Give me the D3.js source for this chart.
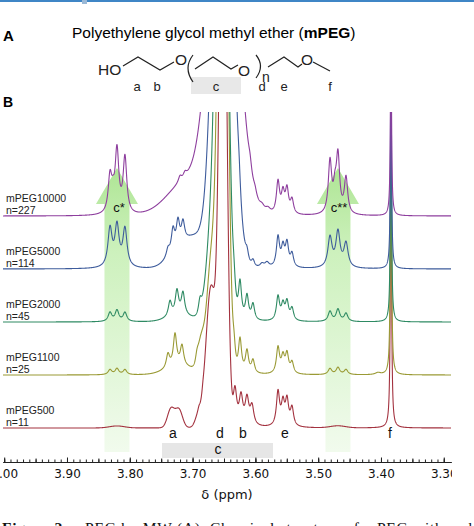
<!DOCTYPE html>
<html>
<head>
<meta charset="utf-8">
<script src="https://cdn.jsdelivr.net/npm/d3@7"></script>
<style>
  body { margin: 0; background: #fff; }
  svg { display: block; font-family: "Liberation Sans", Arial, sans-serif; }
</style>
</head>
<body>
<svg id="fig" width="474" height="526"></svg>
<script>
// Samples, top trace first
var samples = ["mPEG10000", "mPEG5000", "mPEG2000", "mPEG1100", "mPEG500"];
var repeatUnits = [227, 114, 45, 25, 11];

// Peaks: [shift (ppm), height (a.u.), width (ppm), shape G/L]
var peaks10000 = [
  [3.6500, 3.72, 0.0210, "G"], [3.7073, 0.35, 0.0318, "G"],
  [3.7201, 0.06, 0.0032, "L"], [3.7121, 0.05, 0.0032, "L"],
  [3.6086, 0.08, 0.0030, "L"], [3.6006, 0.05, 0.0030, "L"],
  [3.5895, 0.05, 0.0050, "L"], [3.5800, 0.05, 0.0050, "L"],
  [3.5640, 0.32, 0.0030, "L"], [3.5561, 0.20, 0.0030, "L"],
  [3.5497, 0.24, 0.0030, "L"], [3.5417, 0.14, 0.0030, "L"],
  [3.8315, 0.36, 0.0035, "L"], [3.8267, 0.12, 0.0030, "L"],
  [3.8204, 0.62, 0.0035, "L"], [3.8077, 0.56, 0.0035, "L"],
  [3.4812, 0.52, 0.0032, "L"], [3.4733, 0.20, 0.0030, "L"],
  [3.4685, 0.56, 0.0032, "L"], [3.4557, 0.36, 0.0032, "L"],
  [3.3841, 2.00, 0.0010, "L"]
];
var peaks5000 = [
  [3.6516, 6.00, 0.0135, "G"], [3.6962, 0.30, 0.0190, "G"], [3.7280, 0.10, 0.0160, "G"],
  [3.7392, 0.08, 0.0032, "L"], [3.7312, 0.22, 0.0032, "L"],
  [3.7233, 0.25, 0.0032, "L"], [3.7153, 0.20, 0.0032, "L"],
  [3.6261, 0.15, 0.0030, "L"], [3.6134, 0.10, 0.0030, "L"], [3.6038, 0.07, 0.0030, "L"],
  [3.5895, 0.04, 0.0040, "L"], [3.5815, 0.05, 0.0040, "L"],
  [3.5640, 0.30, 0.0030, "L"], [3.5561, 0.19, 0.0030, "L"],
  [3.5497, 0.23, 0.0030, "L"], [3.5417, 0.13, 0.0030, "L"],
  [3.8315, 0.38, 0.0040, "L"], [3.8204, 0.40, 0.0040, "L"], [3.8077, 0.38, 0.0040, "L"],
  [3.4812, 0.30, 0.0040, "L"], [3.4685, 0.35, 0.0040, "L"], [3.4557, 0.24, 0.0040, "L"],
  [3.3841, 2.20, 0.0010, "L"]
];
var peaks2000 = [
  [3.6532, 7.00, 0.0080, "G"], [3.6707, 0.80, 0.0080, "G"], [3.7201, 0.06, 0.0190, "G"],
  [3.7360, 0.15, 0.0032, "L"], [3.7249, 0.24, 0.0032, "L"],
  [3.7153, 0.22, 0.0032, "L"], [3.6882, 0.16, 0.0032, "L"],
  [3.6341, 0.20, 0.0030, "L"], [3.6245, 0.38, 0.0030, "L"],
  [3.6134, 0.24, 0.0030, "L"], [3.6038, 0.16, 0.0030, "L"],
  [3.5640, 0.24, 0.0030, "L"], [3.5561, 0.15, 0.0030, "L"],
  [3.5497, 0.18, 0.0030, "L"], [3.5417, 0.12, 0.0030, "L"],
  [3.8315, 0.09, 0.0035, "L"], [3.8204, 0.11, 0.0035, "L"], [3.8077, 0.09, 0.0035, "L"],
  [3.4812, 0.10, 0.0035, "L"], [3.4685, 0.12, 0.0035, "L"], [3.4557, 0.08, 0.0035, "L"],
  [3.3841, 2.50, 0.0010, "L"]
];
var peaks1100 = [
  [3.6516, 8.00, 0.0064, "G"], [3.6691, 1.20, 0.0080, "G"],
  [3.6866, 0.25, 0.0048, "G"], [3.7201, 0.08, 0.0220, "G"],
  [3.7392, 0.14, 0.0032, "L"], [3.7280, 0.32, 0.0032, "L"],
  [3.7169, 0.20, 0.0032, "L"], [3.6930, 0.10, 0.0032, "L"],
  [3.6341, 0.22, 0.0030, "L"], [3.6245, 0.34, 0.0030, "L"],
  [3.6134, 0.22, 0.0030, "L"], [3.6038, 0.13, 0.0030, "L"],
  [3.5640, 0.26, 0.0030, "L"], [3.5561, 0.16, 0.0030, "L"],
  [3.5497, 0.19, 0.0030, "L"], [3.5417, 0.11, 0.0030, "L"],
  [3.8315, 0.05, 0.0035, "L"], [3.8204, 0.06, 0.0035, "L"], [3.8077, 0.05, 0.0035, "L"],
  [3.4812, 0.06, 0.0035, "L"], [3.4685, 0.07, 0.0035, "L"], [3.4557, 0.05, 0.0035, "L"],
  [3.4048, 0.02, 0.0050, "L"],
  [3.3841, 3.00, 0.0010, "L"]
];
var peaks500 = [
  [3.6516, 6.08, 0.0056, "G"], [3.6707, 1.40, 0.0080, "G"],
  [3.7344, 0.19, 0.0056, "G"], [3.7217, 0.18, 0.0056, "G"], [3.6914, 0.10, 0.0048, "G"],
  [3.6898, 0.04, 0.0024, "L"], [3.6835, 0.05, 0.0024, "L"],
  [3.6325, 0.36, 0.0035, "L"], [3.6229, 0.28, 0.0035, "L"],
  [3.6134, 0.26, 0.0035, "L"], [3.6054, 0.19, 0.0035, "L"],
  [3.5640, 0.34, 0.0030, "L"], [3.5561, 0.22, 0.0030, "L"],
  [3.5497, 0.25, 0.0030, "L"], [3.5417, 0.18, 0.0030, "L"],
  [3.8204, 0.02, 0.0120, "G"], [3.4685, 0.02, 0.0120, "G"],
  [3.3841, 3.30, 0.0010, "L"]
];
var allPeaks = [peaks10000, peaks5000, peaks2000, peaks1100, peaks500];

// axis ticks (ppm)
var majorTicks = [4.0, 3.9, 3.8, 3.7, 3.6, 3.5, 3.4, 3.3];
// assignment labels under the spectra
var peakLetters = ["a", "d", "b", "e", "f"];
var peakLetterShifts = [3.7312, 3.6564, 3.6197, 3.5529, 3.3857];
var cRange = [3.7487, 3.5720];
// 13C satellites marked by arrows
var satNames = ["c*", "c**"];
var satShifts = [3.8204, 3.4685];

var traceColors = ["#8e3f9e", "#3e5c9c", "#2e8a63", "#9a9a35", "#a3323f"];

var svg = d3.select("#fig");
var defs = svg.append("defs");

var x = d3.scaleLinear().domain([4.0019, 3.2885]).range([3, 451]);
var y = d3.scaleLinear().domain([0, 3.16]).range([428, 112]);
var stackStep = 0.53;

defs.append("clipPath").attr("id", "plotClip")
  .append("rect").attr("x", 0).attr("y", 112).attr("width", 474).attr("height", 360);
defs.append("clipPath").attr("id", "axisClip")
  .append("rect").attr("x", -20).attr("y", 440).attr("width", 472).attr("height", 80);

var grad = defs.append("linearGradient").attr("id", "arrowGrad")
  .attr("gradientUnits", "userSpaceOnUse")
  .attr("x1", 0).attr("x2", 0).attr("y1", 166).attr("y2", 455);
grad.append("stop").attr("offset", 0).attr("stop-color", "#aee594");
grad.append("stop").attr("offset", 0.3).attr("stop-color", "#cdf1bd");
grad.append("stop").attr("offset", 1).attr("stop-color", "#f2fbee");

// top border of the page crop
svg.append("line").attr("x1", 0).attr("x2", 474).attr("y1", 1).attr("y2", 1)
  .attr("stroke", "#3f86c6").attr("stroke-width", 2.2);
svg.append("rect").attr("x", 82).attr("y", 0).attr("width", 5).attr("height", 4).attr("fill", "#9bb9d6");

// ---- panel A: structure ----
svg.append("text").attr("x", 3).attr("y", 41).attr("font-size", 15).attr("font-weight", "bold").text("A");
var title = svg.append("text").attr("x", 72).attr("y", 38).attr("font-size", 15.5);
title.append("tspan").text("Polyethylene glycol methyl ether (");
title.append("tspan").attr("font-weight", "bold").text("mPEG");
title.append("tspan").text(")");

svg.append("rect").attr("x", 191).attr("y", 77).attr("width", 50).attr("height", 17).attr("fill", "#e8e8e8");

var mol = svg.append("g").attr("fill", "none").attr("stroke", "#222").attr("stroke-width", 1.2);
var bonds = [
  [[123, 66], [138, 57], [160, 70], [174, 62]],
  [[195, 69], [213, 57], [231, 69], [238, 65]],
  [[268, 67], [284, 57], [298, 67], [302, 64]],
  [[313, 62], [330, 71]]
];
bonds.forEach(function(b) { mol.append("path").attr("d", d3.line()(b)); });
mol.append("path").attr("d", "M193,55 Q183,68 193,82");
mol.append("path").attr("d", "M256,55 Q265,66 256,78");

var atoms = svg.append("g").attr("font-size", 15.5).attr("fill", "#222");
atoms.append("text").attr("x", 98).attr("y", 75).text("HO");
atoms.append("text").attr("x", 175).attr("y", 65).text("O");
atoms.append("text").attr("x", 238).attr("y", 76).text("O");
atoms.append("text").attr("x", 301).attr("y", 65).text("O");
svg.append("text").attr("x", 262).attr("y", 82).attr("font-size", 14).attr("fill", "#222").text("n");

var structLetters = ["a", "b", "c", "d", "e", "f"];
var structLetterX = [137, 157, 216, 262, 284, 330];
svg.append("g").attr("font-size", 13).attr("text-anchor", "middle").attr("fill", "#222")
  .selectAll("text").data(structLetters).enter().append("text")
  .attr("x", function(d, i) { return structLetterX[i]; })
  .attr("y", 91)
  .text(function(d) { return d; });

// ---- panel B: spectra ----
svg.append("text").attr("x", 3).attr("y", 107).attr("font-size", 14).attr("font-weight", "bold").text("B");

// satellite arrows behind the traces
svg.append("g").selectAll("path").data(satShifts).enter().append("path")
  .attr("fill", "url(#arrowGrad)")
  .attr("d", function(s) {
    var cx = x(s);
    return "M" + (cx - 12.5) + ",452 L" + (cx - 12.5) + ",204 L" + (cx - 21) + ",204 L" + cx + ",168 L" +
      (cx + 21) + ",204 L" + (cx + 12.5) + ",204 L" + (cx + 12.5) + ",452 Z";
  });

// sample the summed line shapes on a fine ppm grid
var ppmGrid = d3.range(0, 3568).map(function(i) { return x.domain()[0] - i * 0.0002; });
function spectrum(peaks) {
  return ppmGrid.map(function(v) {
    var s = 0;
    peaks.forEach(function(p) {
      var d = (v - p[0]) / p[2];
      s += p[3] === "G" ? p[1] * Math.exp(-d * d / 2) : p[1] / (1 + d * d);
    });
    return [v, s];
  });
}

var traces = svg.append("g").attr("clip-path", "url(#plotClip)");
// bottom trace first so the upper ones lie on top
for (var i = samples.length - 1; i >= 0; i--) {
  var level = (samples.length - 1 - i) * stackStep;
  var line = d3.line()
    .x(function(d) { return x(d[0]); })
    .y(function(d) { return y(d[1] + this); }.bind(level));
  traces.append("path")
    .datum(spectrum(allPeaks[i]))
    .attr("fill", "none")
    .attr("stroke", traceColors[i])
    .attr("stroke-width", 1.1)
    .attr("stroke-linejoin", "round")
    .attr("d", line);
}

// sample labels
var labels = svg.append("g").attr("font-size", 10.5).attr("fill", "#222");
samples.forEach(function(name, i) {
  var base = y((samples.length - 1 - i) * stackStep);
  labels.append("text").attr("x", 6).attr("y", base - 14).text(name);
  labels.append("text").attr("x", 6).attr("y", base - 2.5).text("n=" + repeatUnits[i]);
});

svg.append("g").attr("font-size", 13).attr("text-anchor", "middle").attr("fill", "#111")
  .selectAll("text").data(satNames).enter().append("text")
  .attr("x", function(d, i) { return x(satShifts[i]) + (i ? 1 : 2); })
  .attr("y", 212)
  .text(function(d) { return d; });

// assignments
svg.append("rect").attr("x", x(cRange[0])).attr("y", 443)
  .attr("width", x(cRange[1]) - x(cRange[0])).attr("height", 15).attr("fill", "#e6e6e6");
svg.append("g").attr("font-size", 14).attr("text-anchor", "middle").attr("fill", "#111")
  .selectAll("text").data(peakLetters).enter().append("text")
  .attr("x", function(d, i) { return x(peakLetterShifts[i]); })
  .attr("y", 438)
  .text(function(d) { return d; });
svg.append("text").attr("x", x(3.6596)).attr("y", 454).attr("font-size", 14)
  .attr("text-anchor", "middle").attr("fill", "#111").text("c");

// axis
var axisG = svg.append("g").attr("clip-path", "url(#axisClip)");
var minorTicks = d3.range(330, 401).map(function(v) { return v / 100; });
var midTicks = d3.range(66, 81).map(function(v) { return v / 20; });
axisG.append("g").attr("transform", "translate(0,462)")
  .call(d3.axisBottom(x).tickValues(minorTicks).tickSize(-2.5).tickSizeOuter(0).tickFormat(""));
axisG.append("g").attr("transform", "translate(0,462)")
  .call(d3.axisBottom(x).tickValues(midTicks).tickSize(-3.5).tickSizeOuter(0).tickFormat(""));
axisG.append("g").attr("transform", "translate(0,462)")
  .call(d3.axisBottom(x).tickValues(majorTicks).tickSize(-4.5).tickSizeOuter(0).tickPadding(7.5)
    .tickFormat(d3.format(".2f")))
  .selectAll("text").attr("font-family", "'DejaVu Sans', Verdana, sans-serif").attr("font-size", 12)
  .attr("fill", "#111");
axisG.selectAll(".domain, .tick line").attr("stroke", "#222");

svg.append("text").attr("x", 227).attr("y", 499).attr("text-anchor", "middle")
  .attr("font-family", "'DejaVu Sans', Verdana, sans-serif").attr("font-size", 13).attr("fill", "#111")
  .text("δ (ppm)");

// caption (cut off by the crop)
var cap = svg.append("text").attr("x", 2).attr("y", 533)
  .attr("font-family", "'Liberation Serif', 'Times New Roman', serif").attr("font-size", 15.5)
  .attr("textLength", 470).attr("lengthAdjust", "spacing").attr("fill", "#111");
cap.append("tspan").attr("font-weight", "bold").text("Figure 2.");
cap.append("tspan").text(" mPEG by MW (A). Chemical structure of mPEG with and");
</script>
</body>
</html>
